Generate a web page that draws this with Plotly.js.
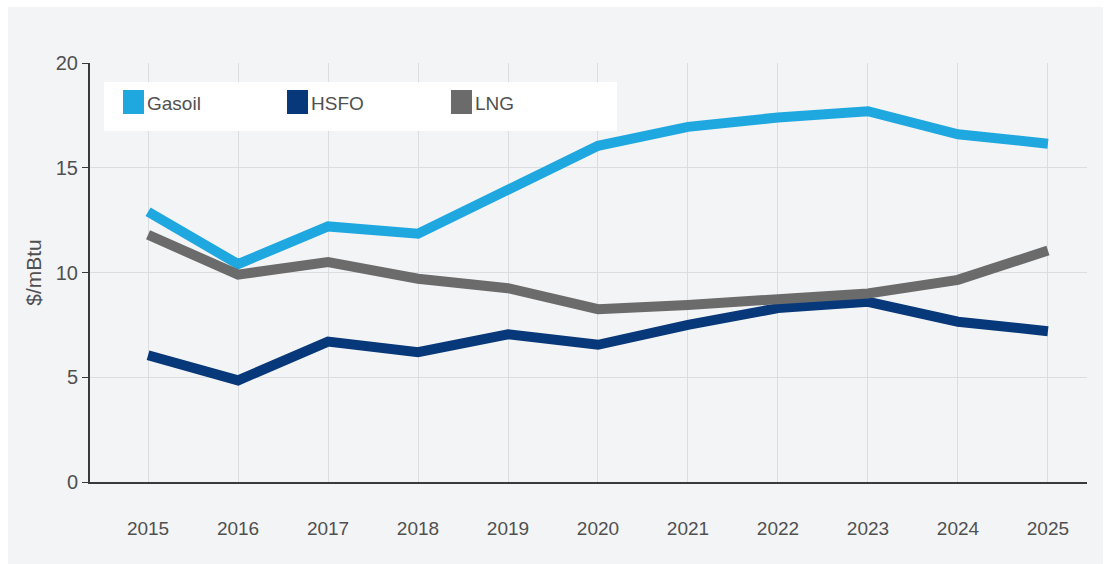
<!DOCTYPE html>
<html>
<head>
<meta charset="utf-8">
<script src="https://cdn.plot.ly/plotly-3.0.1.min.js"></script>
<style>
  html, body { margin: 0; padding: 0; background: #ffffff; }
  #chart { width: 1105px; height: 564px; }
</style>
</head>
<body>
<div id="chart"></div>
<script>
// ---- Data ----
const years = ["2015","2016","2017","2018","2019","2020","2021","2022","2023","2024","2025"];
const gasoil = [12.9, 10.4, 12.2, 11.85, 13.95, 16.05, 16.95, 17.4, 17.7, 16.6, 16.15];
const hsfo   = [6.05, 4.85, 6.7, 6.2, 7.05, 6.55, 7.5, 8.3, 8.6, 7.65, 7.2];
const lng    = [11.8, 9.9, 10.5, 9.7, 9.25, 8.25, 8.45, 8.7, 9.0, 9.65, 11.05];
const seriesNames = ["Gasoil", "HSFO", "LNG"];
const yTickVals = [0, 5, 10, 15, 20];
const yTitle = "$/mBtu";

// ---- Styles ----
const colors = ["#1fa7e0", "#07387a", "#6b6b6b"];
const sans = "'Liberation Sans', Arial, sans-serif";
const seriesValues = [gasoil, hsfo, lng];

const traces = seriesValues.map((vals, i) => ({
  type: "scatter",
  mode: "lines",
  name: seriesNames[i],
  x: years,
  y: vals,
  line: { color: colors[i], width: 10 },
  showlegend: false,
  hoverinfo: "x+y+name"
}));

// plot area in pixels: x 90..1087, y 63..482
const L = 90, R = 1087, T = 63, B = 482;
const px = p => (p - L) / (R - L);
const py = p => (B - p) / (B - T);

const shapes = [
  // light panel background
  { type: "rect", xref: "paper", yref: "paper", layer: "below",
    x0: px(8), x1: px(1103), y0: py(564), y1: py(7),
    fillcolor: "#f3f4f6", line: { width: 0 } },
  // legend box
  { type: "rect", xref: "paper", yref: "paper", layer: "above",
    x0: px(104), x1: px(617), y0: py(131), y1: py(82),
    fillcolor: "#ffffff", line: { width: 0 } }
];
const annotations = [];
const swatchX = [123, 287, 451];
seriesNames.forEach((name, i) => {
  shapes.push({ type: "rect", xref: "paper", yref: "paper", layer: "above",
    x0: px(swatchX[i]), x1: px(swatchX[i] + 21), y0: py(114), y1: py(90),
    fillcolor: colors[i], line: { width: 0 } });
  annotations.push({ xref: "paper", yref: "paper", x: px(swatchX[i] + 22), y: py(103),
    xanchor: "left", yanchor: "middle", showarrow: false, text: name,
    font: { family: sans, size: 19, color: "#505050" } });
});

const layout = {
  width: 1105,
  height: 564,
  margin: { l: L, r: 1105 - R, t: T, b: 564 - B, pad: 0 },
  paper_bgcolor: "#ffffff",
  plot_bgcolor: "rgba(0,0,0,0)",
  showlegend: false,
  xaxis: {
    type: "category",
    range: [-0.645, 10.434],
    showgrid: true,
    gridcolor: "#dcdde1",
    gridwidth: 1,
    showline: true,
    linecolor: "#3a3a3a",
    linewidth: 2,
    ticks: "",
    ticklabelstandoff: 28,
    tickfont: { family: sans, size: 19, color: "#505050" },
    zeroline: false,
    fixedrange: true
  },
  yaxis: {
    range: [0, 20],
    tickvals: yTickVals,
    showgrid: true,
    gridcolor: "#dcdde1",
    gridwidth: 1,
    showline: true,
    linecolor: "#3a3a3a",
    linewidth: 2,
    ticks: "outside",
    ticklen: 6,
    tickcolor: "#3a3a3a",
    tickwidth: 1,
    tickfont: { family: sans, size: 20, color: "#505050" },
    zeroline: false,
    title: { text: yTitle, font: { family: sans, size: 21, color: "#505050" }, standoff: 8 },
    fixedrange: true
  },
  shapes: shapes,
  annotations: annotations
};

Plotly.newPlot("chart", traces, layout, { displayModeBar: false, staticPlot: true });
</script>
</body>
</html>
